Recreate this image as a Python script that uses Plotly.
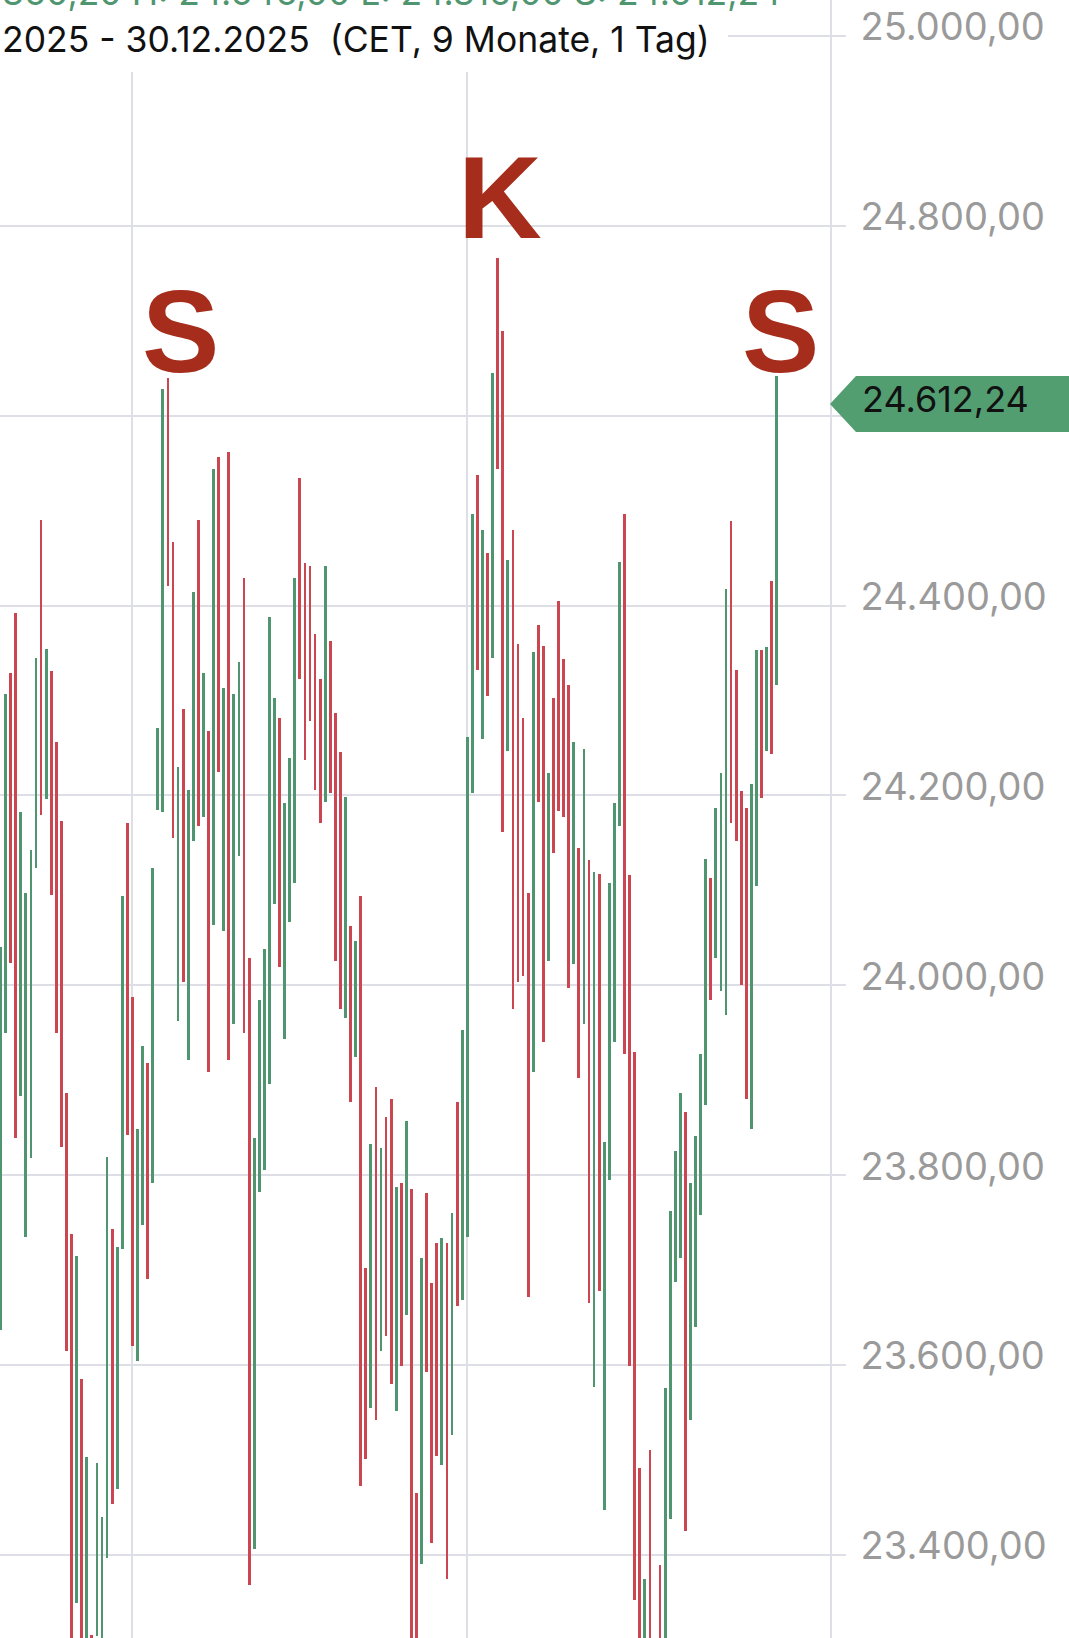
import plotly.graph_objects as go

# ---------------- data (daily high / low, direction of the day) ----------------
highs = [24040, 24307, 24329, 24392, 24183, 24097, 24143, 24345, 24490, 24354,
         24331, 24256, 24173, 23887, 23738, 23715, 23585, 23503, 23316, 23497,
         23440, 23819, 23743, 23724, 24094, 24171, 23988, 23849, 23936, 23918,
         24124, 24271, 24628, 24640, 24467, 24230, 24291, 24206, 24414, 24490,
         24329, 24268, 24544, 24556, 24313, 24562, 24307, 24341, 24429, 24029,
         23839, 23985, 24038, 24388, 24303, 24282, 24192, 24239, 24429, 24534,
         24445, 24442, 24370, 24323, 24442, 24363, 24287, 24246, 24198, 24062,
         24047, 24094, 23702, 23833, 23893, 23829, 23861, 23880, 23788, 23792,
         23857, 23785, 23465, 23713, 23781, 23686, 23729, 23734, 23729, 23760,
         23877, 23953, 24262, 24496, 24537, 24480, 24455, 24645, 24766, 24689,
         24448, 24480, 24359, 24282, 24097, 24351, 24379, 24357, 24224, 24303,
         24405, 24344, 24316, 24256, 24145, 24249, 24132, 24119, 24117, 23835,
         24108, 24192, 24446, 24496, 24116, 23930, 23492, 23375, 23511, 23200,
         23389, 23576, 23762, 23826, 23887, 23867, 23792, 23841, 23928, 24133,
         24113, 24187, 24224, 24417, 24489, 24332, 24205, 24187, 24212, 24353,
         24353, 24356, 24426, 24642]
lows = [23637, 23950, 24024, 23839, 23883, 23735, 23818, 24124, 24179, 24196,
        24095, 23950, 23830, 23615, 23250, 23349, 23200, 23230, 23150, 23315,
        23280, 23397, 23454, 23470, 23722, 23842, 23620, 23604, 23748, 23691,
        23792, 24185, 24183, 24421, 24155, 23962, 24004, 23921, 24152, 24168,
        24177, 23909, 24064, 24225, 24057, 23921, 23959, 24136, 23950, 23368,
        23406, 23782, 23806, 23896, 24086, 24019, 23943, 24067, 24108, 24323,
        24237, 24278, 24206, 24171, 24193, 24203, 24026, 23975, 23966, 23877,
        23925, 23473, 23501, 23555, 23542, 23615, 23631, 23580, 23552, 23599,
        23653, 23290, 23280, 23391, 23593, 23413, 23504, 23495, 23375, 23526,
        23662, 23669, 23735, 24203, 24332, 24259, 24305, 24345, 24544, 24161,
        24247, 23975, 24004, 24010, 23672, 23909, 24193, 23940, 24026, 24139,
        24184, 24177, 23997, 24022, 23902, 23959, 23665, 23577, 23678, 23447,
        23795, 23940, 24168, 23928, 23599, 23353, 23150, 23100, 23080, 22950,
        23050, 23150, 23438, 23688, 23713, 23425, 23542, 23640, 23758, 23874,
        23985, 24029, 23994, 23969, 24171, 24152, 24000, 23880, 23849, 24105,
        24197, 24247, 24244, 24316]
# u = up day (green), d = down day (red); ten days per chunk
direction = list(
    "uudduuuudu" "dddddududu" "uuduudduud" "uuudduduud" "udududuudd"
    "uuuuuduuud" "ddddudddud" "uddududdud" "uddudddudu" "duuudududd"
    "udddduddud" "dddudududu" "uuuddddudu" "duuuuduuuu" "duuudddduu"
    "dudu"
)

quarter_start_idx = [26, 92]           # 01.07.2025 and 01.10.2025
y_ticks = [23400, 23600, 23800, 24000, 24200, 24400, 24600, 24800, 25000]
# the 24.600,00 label sits under the last-price tag in the original
y_ticktext = ["23.400,00", "23.600,00", "23.800,00", "24.000,00", "24.200,00",
              "24.400,00", "", "24.800,00", "25.000,00"]
last_close = 24612.24
last_close_text = "24.612,24"
header_text = "2025 - 30.12.2025\u00a0\u00a0(CET, 9 Monate, 1 Tag)"
ohlc_text = "360,20 H: 24.646,00 L: 24.316,00 S: 24.612,24"
pattern_labels = ["S", "K", "S"]
pattern_x = [35.4, 98.5, 153.7]
pattern_y = [24688, 24829, 24688]

# ---------------- styling ----------------
GREEN = "#4F9670"
RED = "#CC4652"
GRID = "#DEDEE6"
LABEL = "#9A9A9A"
FONT = "Inter"

n = len(highs)
idx = list(range(n))
colors = [GREEN if d == "u" else RED for d in direction[:n]]

fig = go.Figure()
fig.add_trace(go.Bar(
    x=idx,
    y=[h - l for h, l in zip(highs, lows)],
    base=lows,
    width=0.55,
    marker=dict(color=colors, line=dict(width=0)),
    hoverinfo="skip",
))

fig.update_layout(
    width=1069, height=1638,
    margin=dict(l=0, r=239, t=0, b=0),
    paper_bgcolor="white", plot_bgcolor="white",
    showlegend=False,
    bargap=0,
)
fig.update_xaxes(
    range=[-0.1, 163.5],
    tickvals=quarter_start_idx,
    showticklabels=False,
    showgrid=True, gridcolor=GRID, gridwidth=2,
    zeroline=False, ticks="", showline=False,
)
fig.update_yaxes(
    side="right",
    range=[23312.6, 25037.7],
    tickvals=y_ticks, ticktext=y_ticktext,
    showgrid=True, gridcolor=GRID, gridwidth=2,
    ticks="outside", ticklen=14, tickwidth=2, tickcolor=GRID,
    showline=True, linecolor=GRID, linewidth=2,
    zeroline=False,
    tickfont=dict(family=FONT, size=38, color=LABEL),
    ticklabelstandoff=7,
    ticklabelshift=-9,
)

# white header box
fig.add_shape(type="rect", xref="paper", yref="paper",
              x0=0, x1=728 / 830, y0=1 - 72 / 1638, y1=1.02,
              fillcolor="white", line=dict(width=0), layer="above")

fig.add_annotation(text=header_text, xref="paper", yref="paper",
                   x=0.0, y=1 - 39 / 1638, xanchor="left", yanchor="middle",
                   showarrow=False, font=dict(family=FONT, size=35.5, color="#111111"))
fig.add_annotation(text=ohlc_text, xref="paper", yref="paper",
                   x=0.0, y=1 + 8 / 1638, xanchor="left", yanchor="middle",
                   showarrow=False, font=dict(family=FONT, size=35.5, color=GREEN))

# head & shoulders letters
for t, xx, yy in zip(pattern_labels, pattern_x, pattern_y):
    fig.add_annotation(text=t, x=xx, y=yy, xref="x", yref="y",
                       showarrow=False, xanchor="center", yanchor="middle",
                       font=dict(family="Liberation Sans", size=116,
                                 color="#A62C1C", weight="bold"))

# last price tag
fig.add_shape(type="path", xref="paper", yref="y",
              xsizemode="pixel", ysizemode="pixel",
              xanchor=1, yanchor=last_close,
              path="M 0,0 L 26,28 L 245,28 L 245,-28 L 26,-28 Z",
              fillcolor="#539E71", line=dict(width=0), layer="above")
fig.add_annotation(text=last_close_text, xref="paper", yref="y",
                   x=1, y=last_close, xanchor="left", yanchor="middle",
                   xshift=30, yshift=5, showarrow=False,
                   font=dict(family=FONT, size=36, color="#111111"))

fig.write_html("out.html", config={"displayModeBar": False},
               post_script="document.body.style.margin='0';document.body.style.overflow='hidden';")
